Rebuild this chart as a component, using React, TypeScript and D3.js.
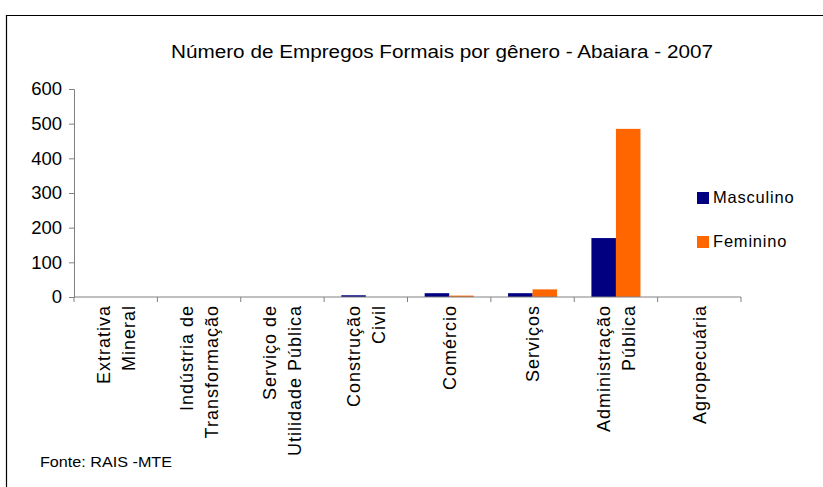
import React, { useEffect, useRef } from 'react';
import * as d3 from 'd3';

const categories: string[][] = [
  ['Extrativa', 'Mineral'],
  ['Indústria de', 'Transformação'],
  ['Serviço de', 'Utilidade Pública'],
  ['Construção', 'Civil'],
  ['Comércio'],
  ['Serviços'],
  ['Administração', 'Pública'],
  ['Agropecuária'],
];
const masculino = [0, 0, 0, 5, 11, 11, 170, 0];
const feminino = [0, 0, 0, 0, 4, 22, 485, 0];
const seriesNames = ['Masculino', 'Feminino'];
const seriesColors = ['#000080', '#FF6600'];
const yTicks = [0, 100, 200, 300, 400, 500, 600];

const App: React.FC = () => {
  const svgRef = useRef<SVGSVGElement>(null);

  useEffect(() => {
    if (!svgRef.current) return;
    const svg = d3.select(svgRef.current);
    svg.selectAll('*').remove();

    const left = 74, right = 741, top = 89, bottom = 297;
    const font = 'Liberation Sans, Arial, sans-serif';

    // frame
    svg.append('path')
      .attr('d', 'M6.5,487 L6.5,15.5 L823,15.5')
      .attr('fill', 'none')
      .attr('stroke', '#000')
      .attr('stroke-width', 1.2);

    // title
    svg.append('text')
      .attr('x', 442)
      .attr('y', 58)
      .attr('text-anchor', 'middle')
      .attr('font-family', font)
      .attr('font-size', 17.5)
      .attr('textLength', 542)
      .attr('lengthAdjust', 'spacingAndGlyphs')
      .text('Número de Empregos Formais por gênero - Abaiara - 2007');

    const x0 = d3.scaleBand<number>()
      .domain(d3.range(categories.length))
      .range([left, right])
      .paddingInner(0)
      .paddingOuter(0);

    const groupW = x0.bandwidth() / 1.7;
    const x1 = d3.scaleBand<number>()
      .domain([0, 1])
      .range([0, groupW]);

    const y = d3.scaleLinear().domain([0, 600]).range([bottom, top]);

    // bars
    const series = [masculino, feminino];
    series.forEach((vals, si) => {
      svg.append('g')
        .selectAll('rect')
        .data(vals)
        .enter()
        .append('rect')
        .attr('x', (_, i) => (x0(i) as number) + (x0.bandwidth() - groupW) / 2 + (x1(si) as number))
        .attr('y', d => y(d))
        .attr('width', x1.bandwidth())
        .attr('height', d => bottom - y(d))
        .attr('fill', seriesColors[si]);
    });

    // y axis
    const yAxis = svg.append('g')
      .attr('transform', `translate(${left},0)`)
      .call(d3.axisLeft(y).tickValues(yTicks).tickSize(5).tickPadding(7).tickFormat(d3.format('d')));
    yAxis.select('.domain').attr('stroke', '#808080');
    yAxis.selectAll('.tick line').attr('stroke', '#808080');
    yAxis.selectAll('.tick text')
      .attr('font-family', font)
      .attr('font-size', 18.5)
      .attr('fill', '#000');

    // x axis
    const xAxis = svg.append('g')
      .attr('transform', `translate(0,${bottom})`);
    xAxis.append('line')
      .attr('x1', left).attr('x2', right)
      .attr('y1', 0).attr('y2', 0)
      .attr('stroke', '#808080');
    const edges = d3.range(categories.length + 1).map(i => left + i * x0.step());
    xAxis.selectAll('.xt')
      .data(edges)
      .enter()
      .append('line')
      .attr('x1', d => d).attr('x2', d => d)
      .attr('y1', 0).attr('y2', 5)
      .attr('stroke', '#808080');

    // category labels
    const labels = svg.append('g');
    categories.forEach((lines, i) => {
      const cx = (x0(i) as number) + x0.bandwidth() / 2;
      const g = labels.append('g')
        .attr('transform', `translate(${cx},305) rotate(-90)`);
      lines.forEach((ln, li) => {
        const off = (li - (lines.length - 1) / 2) * 25;
        g.append('text')
          .attr('x', 0)
          .attr('y', off)
          .attr('dy', '0.36em')
          .attr('text-anchor', 'end')
          .attr('font-family', font)
          .attr('font-size', 18)
          .attr('letter-spacing', 1)
          .text(ln);
      });
    });

    // legend
    const legend = svg.append('g');
    seriesNames.forEach((name, i) => {
      const ly = 192 + i * 44;
      legend.append('rect')
        .attr('x', 697).attr('y', ly)
        .attr('width', 12).attr('height', 12)
        .attr('fill', seriesColors[i]);
      legend.append('text')
        .attr('x', 713).attr('y', ly + 11)
        .attr('font-family', font)
        .attr('font-size', 16.5)
        .attr('letter-spacing', 0.8)
        .text(name);
    });

    // source
    svg.append('text')
      .attr('x', 40).attr('y', 467)
      .attr('font-family', font)
      .attr('font-size', 14)
      .attr('textLength', 132)
      .attr('lengthAdjust', 'spacingAndGlyphs')
      .text('Fonte: RAIS -MTE');
  }, []);

  return (
    <svg
      ref={svgRef}
      width={823}
      height={487}
      style={{ position: 'absolute', left: 0, top: 0, background: '#fff' }}
    />
  );
};

export default App;
